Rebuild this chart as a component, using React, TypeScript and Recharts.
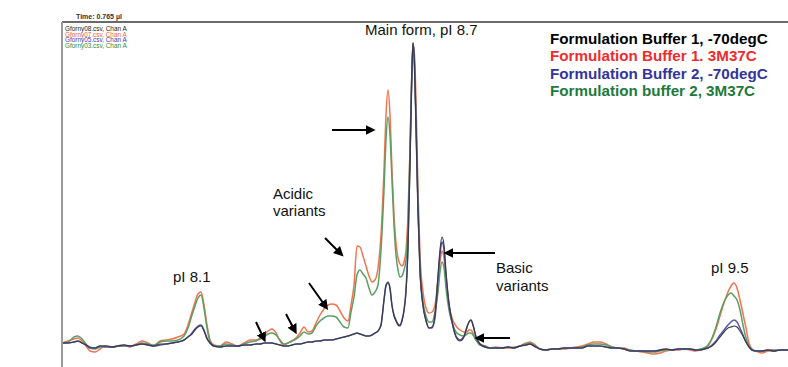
import React from "react";
import { LineChart, Line, XAxis, YAxis } from "recharts";

// scan position (arbitrary units)
const positions = [
  62, 68, 74, 78, 82, 86, 90, 95, 100, 106,
  112, 118, 124, 130, 136, 142, 148, 154, 160, 166,
  172, 178, 184, 188, 192, 195, 198, 201, 204, 207,
  210, 214, 220, 226, 232, 238, 244, 250, 256, 260,
  264, 268, 272, 276, 280, 284, 288, 292, 296, 300,
  304, 308, 312, 316, 320, 324, 328, 332, 336, 340,
  344, 348, 351, 354, 357, 360, 363, 366, 369, 372,
  375, 378, 381, 384, 386, 388, 390, 392, 394, 396,
  398, 400, 402, 404, 406, 408, 410, 411.5, 413, 414.5,
  416, 418, 420, 423, 426, 429, 432, 435, 438, 440,
  442, 444, 446, 449, 452, 456, 460, 464, 467, 469,
  471, 473, 476, 480, 485, 490, 496, 502, 508, 514,
  520, 526, 530, 534, 540, 546, 552, 558, 564, 570,
  576, 582, 588, 594, 600, 606, 612, 618, 624, 630,
  636, 642, 648, 654, 660, 666, 672, 678, 684, 690,
  696, 700, 704, 708, 712, 716, 720, 724, 728, 731,
  734, 737, 740, 743, 746, 749, 752, 756, 762, 768,
  774, 780, 788,
];

// Formulation Buffer 1, 3M37C
const buffer1Stressed = [
  2, 4, 6, 7, 4, -1, -6, -7, -4, -1,
  -2, -1, 0, -2, 1, 4, 2, -1, 4, 5,
  6, 8, 11, 20, 33, 43, 51, 53, 40, 20,
  5, 0, -1, 3, 1, -1, 2, 5, 5, 7,
  10, 14, 16, 12, 4, 0, 2, 4, 7, 12,
  18, 13, 14, 22, 30, 36, 40, 41, 40, 34,
  27, 24, 40, 60, 99, 98, 89, 79, 69, 63,
  65, 77, 110, 175, 230, 255, 230, 175, 130, 102,
  87, 81, 79, 83, 95, 130, 195, 260, 301, 290,
  245, 155, 90, 53, 37, 32, 33, 40, 65, 83,
  94, 87, 65, 40, 27, 19, 15, 13, 13, 15,
  15, 12, 5, 1, -1, -3, -2, -3, -3, -2,
  -1, 2, 3, 1, -4, -5, -4, -4, -4, -3,
  -2, -1, 1, 3, 3, 1, -2, -3, -3, -5,
  -6, -7, -8, -9, -8, -6, -5, -5, -4, -5,
  -6, -5, -4, -1, 6, 16, 29, 42, 53, 59,
  62, 57, 45, 31, 17, 2, -4, -6, -8, -6,
  -6, -5, -5,
];

// Formulation buffer 2, 3M37C
const buffer2Stressed = [
  2, 3, 8, 9, 6, 1, -3, -4, -2, -1,
  -2, -1, 0, -1, 0, 2, 1, 0, 3, 4,
  4, 5, 9, 17, 30, 39, 47, 50, 37, 17,
  4, -1, -1, 1, 0, -1, 1, 3, 4, 6,
  8, 11, 12, 10, 5, 1, 2, 4, 6, 9,
  13, 11, 12, 19, 24, 27, 29, 29, 28, 23,
  18, 17, 33, 48, 70, 75, 71, 67, 57, 50,
  53, 60, 95, 155, 205, 228, 210, 165, 120, 90,
  75, 68, 69, 75, 85, 120, 195, 260, 302, 280,
  225, 140, 77, 43, 29, 23, 23, 33, 53, 73,
  83, 77, 57, 35, 23, 13, 10, 9, 11, 12,
  12, 10, 5, 0, -1, -3, -3, -3, -2, -3,
  -1, 1, 2, 0, -4, -5, -4, -4, -3, -3,
  -3, -2, 0, 1, 1, 0, -2, -3, -4, -5,
  -6, -6, -7, -7, -6, -5, -5, -4, -4, -4,
  -5, -4, -3, 0, 7, 18, 32, 43, 50, 52,
  49, 45, 35, 20, 7, -1, -5, -6, -6, -5,
  -5, -5, -5,
];

// Formulation Buffer 2, -70degC
const buffer2Frozen = [
  2, 2, 3, 4, 2, 0, -3, -3, -1, -2,
  -2, -1, -1, -1, 0, 1, 0, -1, 0, 1,
  2, 3, 5, 8, 12, 16, 19, 20, 15, 7,
  2, -1, -2, -1, -1, -1, 0, 0, 1, 1,
  2, 2, 2, 1, 0, -1, -1, 0, 1, 1,
  2, 3, 3, 4, 4, 5, 5, 5, 6, 7,
  8, 9, 10, 11, 12, 11, 10, 9, 9, 10,
  12, 14, 20, 45, 60, 63, 57, 40, 30, 25,
  21, 20, 25, 35, 55, 100, 185, 255, 302, 280,
  220, 135, 75, 40, 25, 17, 17, 27, 65, 90,
  103, 95, 70, 40, 23, 9, 5, 9, 18, 23,
  25, 20, 8, 1, -2, -3, -3, -3, -2, -3,
  -1, 0, 1, -1, -4, -5, -4, -4, -3, -3,
  -3, -3, -1, -1, -1, -2, -3, -3, -4, -6,
  -6, -6, -6, -6, -5, -4, -5, -4, -4, -4,
  -5, -5, -4, -3, 0, 4, 10, 15, 20, 23,
  25, 23, 17, 10, 3, -2, -5, -6, -6, -5,
  -6, -5, -5,
];

// Formulation Buffer 1, -70degC
const buffer1Frozen = [
  2, 2, 3, 4, 2, 0, -2, -3, -1, -1,
  -2, -1, 0, -1, 0, 1, 0, -1, 1, 1,
  2, 3, 5, 8, 11, 15, 18, 19, 14, 6,
  2, -1, -2, -1, -1, -1, 0, 0, 1, 1,
  2, 2, 2, 1, 0, -1, -1, 0, 1, 1,
  2, 3, 3, 4, 4, 5, 5, 5, 6, 7,
  8, 9, 10, 11, 12, 11, 10, 9, 9, 10,
  12, 14, 20, 45, 59, 62, 56, 39, 29, 24,
  20, 19, 24, 34, 53, 97, 180, 255, 302, 280,
  220, 135, 75, 39, 24, 17, 18, 30, 70, 95,
  108, 100, 73, 42, 24, 8, 4, 8, 18, 23,
  25, 20, 8, 1, -2, -3, -3, -3, -2, -3,
  -1, 0, 1, -1, -4, -5, -4, -4, -3, -3,
  -3, -3, -1, -1, -1, -2, -3, -3, -4, -6,
  -6, -6, -6, -6, -5, -4, -5, -4, -4, -4,
  -5, -5, -4, -3, -1, 3, 8, 13, 17, 18,
  19, 18, 14, 9, 3, -2, -5, -6, -6, -5,
  -6, -5, -5,
];

const yTicks = [307, 286.7, 266.3, 246, 225.7, 205.3, 185, 164.7, 144.3, 124, 103.7, 83.3, 63, 42.7, 22.3, 2, -18.3];

const legendLabels = [
  "Formulation Buffer 1, -70degC",
  "Formulation Buffer 1. 3M37C",
  "Formulation Buffer 2, -70degC",
  "Formulation buffer 2, 3M37C",
];
const legendColors = ["#000000", "#ef2b2b", "#34349a", "#1d7a3c"];
const fileLabels = ["Gforny08.csv, Chan A", "Gforny07.csv, Chan A", "Gforny05.csv, Chan A", "Gforny03.csv, Chan A"];
const fileColors = ["#222222", "#f0603a", "#4040b0", "#2f8a3f"];

const data = positions.map((x, i) => ({
  x,
  k: buffer1Frozen[i],
  r: buffer1Stressed[i],
  b: buffer2Frozen[i],
  g: buffer2Stressed[i],
}));

const FONT = "'Liberation Sans', Arial, sans-serif";

const arrows: [number, number, number, number][] = [
  [332, 130, 372, 130],
  [495, 253, 447, 253],
  [510, 338, 478, 338],
  [325, 238, 341, 254],
  [309, 283, 326, 307],
  [286, 314, 295, 331],
  [256, 322, 264, 339],
];

export default function App() {
  return (
    <div style={{ position: "absolute", left: 0, top: 0, width: 788, height: 367, background: "#fff" }}>
      <LineChart width={788} height={367} data={data} margin={{ top: 20, right: 0, bottom: 0, left: 52 }}>
        <XAxis
          dataKey="x"
          type="number"
          domain={[62, 788]}
          orientation="top"
          height={2}
          tick={false}
          tickLine={false}
          axisLine={{ stroke: "#6a6a6a", strokeWidth: 2 }}
          allowDataOverflow
        />
        <YAxis
          type="number"
          domain={[-22, 323]}
          width={10}
          ticks={yTicks}
          tick={false}
          tickSize={3}
          tickLine={{ stroke: "#555" }}
          axisLine={{ stroke: "#9a9a9a", strokeWidth: 2 }}
          allowDataOverflow
        />
        <Line dataKey="r" type="monotone" stroke="#f2734f" strokeWidth={1.5} dot={false} isAnimationActive={false} />
        <Line dataKey="g" type="monotone" stroke="#5c9e62" strokeWidth={1.5} dot={false} isAnimationActive={false} />
        <Line dataKey="b" type="monotone" stroke="#5858aa" strokeWidth={1.5} dot={false} isAnimationActive={false} />
        <Line dataKey="k" type="monotone" stroke="#3a3a48" strokeWidth={1.2} dot={false} isAnimationActive={false} />
      </LineChart>
      <svg
        width={788}
        height={367}
        style={{ position: "absolute", left: 0, top: 0, pointerEvents: "none" }}
      >
        <defs>
          <marker id="ah" markerWidth="5" markerHeight="5" refX="3.2" refY="2.5" orient="auto" markerUnits="strokeWidth">
            <path d="M0,0 L5,2.5 L0,5 Z" fill="#000" />
          </marker>
        </defs>
        <text x={76} y={19} fontSize={7} fontWeight="bold" fontFamily={FONT} fill="#333">Time:   0.765 µl</text>
        {fileLabels.map((t, i) => (
          <text key={t} x={65} y={31 + i * 5.6} fontSize={6.4} fontFamily={FONT} fill={fileColors[i]}>
            {t}
          </text>
        ))}
        {legendLabels.map((t, i) => (
          <text key={t} x={550} y={44 + i * 17.3} fontSize={15.2} fontWeight="bold" fontFamily={FONT} fill={legendColors[i]}>
            {t}
          </text>
        ))}
        <g fontFamily={FONT} fontSize={15} fill="#111">
          <text x={365} y={35}>Main form, pI 8.7</text>
          <text x={173} y={282}>pI 8.1</text>
          <text x={273} y={199}>Acidic</text>
          <text x={273} y={216}>variants</text>
          <text x={496} y={273}>Basic</text>
          <text x={496} y={291}>variants</text>
          <text x={711} y={273}>pI 9.5</text>
        </g>
        {arrows.map(([x1, y1, x2, y2], i) => (
          <line key={i} x1={x1} y1={y1} x2={x2} y2={y2} stroke="#000" strokeWidth={2} markerEnd="url(#ah)" />
        ))}
      </svg>
    </div>
  );
}
